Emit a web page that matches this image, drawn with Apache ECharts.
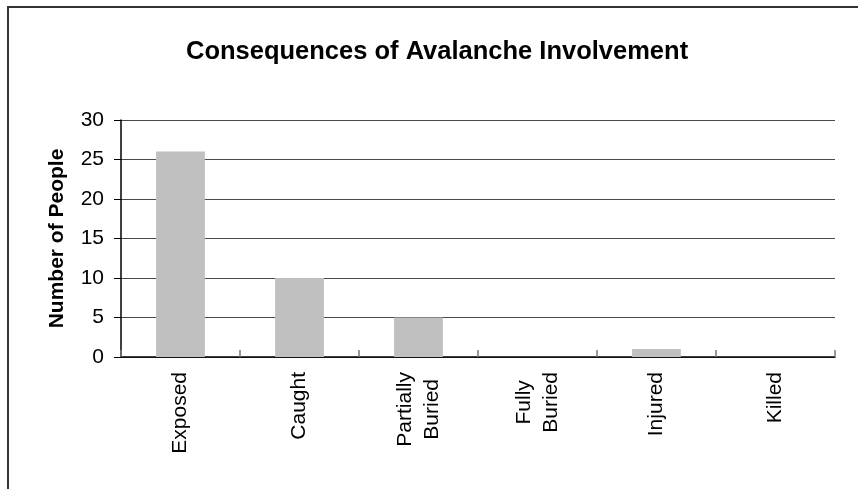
<!DOCTYPE html>
<html>
<head>
<meta charset="utf-8">
<script src="https://cdn.jsdelivr.net/npm/echarts@6/dist/echarts.min.js"></script>
<style>
  html, body { margin: 0; padding: 0; background: #fff; }
  #chart { width: 858px; height: 489px; }
</style>
</head>
<body>
<div id="chart"></div>
<script>
const titleText = 'Consequences of Avalanche Involvement';
const yAxisTitle = 'Number of People';
const categories = ['Exposed', 'Caught', 'Partially\nBuried', 'Fully\nBuried', 'Injured', 'Killed'];
const peopleCounts = [26, 10, 5, 0, 1, 0];
const yTicks = { min: 0, max: 30, interval: 5 };

const FONT = '"Liberation Sans", Arial, sans-serif';
const chart = echarts.init(document.getElementById('chart'), null, { renderer: 'canvas' });

chart.setOption({
  animation: false,
  backgroundColor: '#ffffff',
  textStyle: { fontFamily: FONT },
  graphic: [{
    type: 'rect',
    silent: true,
    shape: { x: 8, y: 7, width: 1000, height: 1000 },
    style: { fill: 'none', stroke: '#333333', lineWidth: 2 }
  }],
  title: {
    text: titleText,
    left: 186,
    top: 39,
    padding: 0,
    textStyle: { fontFamily: FONT, fontSize: 25.5, fontWeight: 'bold', color: '#000' }
  },
  grid: { left: 121, right: 23, top: 120, bottom: 132, containLabel: false },
  xAxis: {
    type: 'category',
    data: categories,
    boundaryGap: true,
    axisLine: { show: true, lineStyle: { color: '#000', width: 1.5 } },
    axisTick: { show: true, inside: true, length: 7, alignWithLabel: false, lineStyle: { color: '#777', width: 1.5 } },
    axisLabel: {
      rotate: 90,
      interval: 0,
      margin: 15,
      color: '#000',
      fontFamily: FONT,
      fontSize: 21,
      lineHeight: 27,
      formatter: function (v) {
        return v.split('\n').map(function (s) { return '{c|' + s + '}'; }).join('\n');
      },
      rich: {
        c: { align: 'center', fontFamily: FONT, fontSize: 21, lineHeight: 27, color: '#000' }
      }
    },
    splitLine: { show: false }
  },
  yAxis: {
    type: 'value',
    min: yTicks.min,
    max: yTicks.max,
    interval: yTicks.interval,
    name: yAxisTitle,
    nameLocation: 'middle',
    nameRotate: 90,
    nameGap: 53,
    nameTextStyle: { fontFamily: FONT, fontSize: 21, fontWeight: 'bold', color: '#000' },
    axisLine: { show: true, lineStyle: { color: '#000', width: 1.5 } },
    axisTick: { show: true, inside: false, length: 7, lineStyle: { color: '#000', width: 1 } },
    axisLabel: { margin: 17, color: '#000', fontFamily: FONT, fontSize: 21 },
    splitLine: { show: true, lineStyle: { color: '#4a4a4a', width: 1.2 } }
  },
  series: [{
    type: 'bar',
    data: peopleCounts,
    barCategoryGap: '59%',
    itemStyle: { color: '#c0c0c0' },
    emphasis: { disabled: true }
  }]
});
</script>
</body>
</html>
